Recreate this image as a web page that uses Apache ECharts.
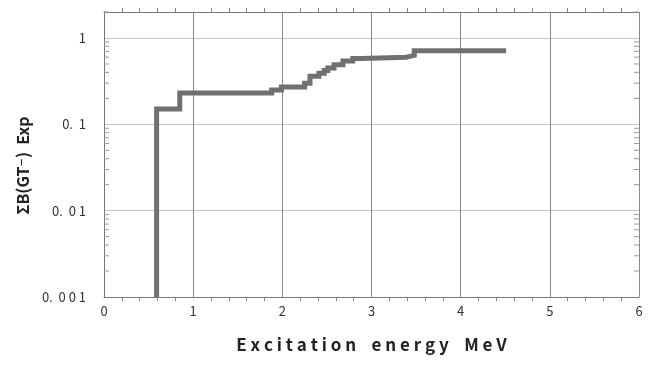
<!DOCTYPE html>
<html>
<head>
<meta charset="utf-8">
<script src="https://cdn.jsdelivr.net/npm/echarts@6/dist/echarts.min.js"></script>
<style>
  html, body { margin: 0; padding: 0; background: #fff; }
  #chart { width: 664px; height: 366px; }
</style>
</head>
<body>
<div id="chart"></div>
<script>
// step starts (MeV) and cumulative B(GT-) from that energy on
const energies = [0.59, 0.59, 0.85, 1.88, 1.99, 2.25, 2.31, 2.41, 2.47, 2.51, 2.58, 2.68, 2.79, 2.89, 3.39, 3.48, 4.51];
const sumBgt =   [0.001, 0.15, 0.23, 0.25, 0.27, 0.30, 0.36, 0.39, 0.42, 0.45, 0.49, 0.54, 0.58, 0.60, 0.63, 0.71, 0.71];

const yTickLabels = { 0.001: '0.  0 0 1', 0.01: '0.  0 1', 0.1: '0.  1', 1: '1' };

// log minor ticks 2..9 per decade
const yMinor = [];
for (let d = 0.001; d < 1.5; d *= 10) {
  for (let k = 2; k <= 9; k++) {
    const v = +(k * d).toPrecision(3);
    if (v <= 2) yMinor.push(v);
  }
}

const FONT = "'Noto Sans CJK JP', 'DejaVu Sans', sans-serif";
const frame = { lineStyle: { color: '#777', width: 1 } };

const chart = echarts.init(document.getElementById('chart'));

chart.setOption({
  animation: false,
  grid: { left: 104, right: 25, top: 12, bottom: 69 },
  xAxis: [
    {
      type: 'value', min: 0, max: 6, interval: 1,
      name: 'E x c i t a t i o n    e n e r g y    M e V',
      nameLocation: 'middle', nameGap: 39,
      nameTextStyle: { fontFamily: FONT, fontSize: 17, fontWeight: 'bold', color: '#222' },
      axisLine: frame,
      axisTick: { show: false },
      minorTick: { show: true, splitNumber: 5, length: 4, inside: true, lineStyle: { color: '#888' } },
      axisLabel: { fontFamily: FONT, fontSize: 13, color: '#333', margin: 8 },
      splitLine: { show: true, lineStyle: { color: '#8a8a8a', width: 1 } }
    },
    {
      type: 'value', min: 0, max: 6, interval: 1, position: 'top',
      axisLine: frame, axisTick: { show: false }, axisLabel: { show: false },
      minorTick: { show: true, splitNumber: 5, length: 4, inside: true, lineStyle: { color: '#888' } },
      splitLine: { show: false }
    }
  ],
  yAxis: [
    {
      type: 'log', logBase: 10, min: 0.001, max: 2,
      name: 'ΣB(GT⁻)  Exp\u00a0\u00a0\u00a0\u00a0\u00a0\u00a0',
      nameLocation: 'middle', nameGap: 62,
      nameTextStyle: { fontFamily: FONT, fontSize: 16, fontWeight: 'bold', color: '#222' },
      axisLine: frame,
      axisTick: { show: false },
      axisLabel: {
        fontFamily: FONT, fontSize: 13, color: '#333', margin: 18,
        formatter: v => yTickLabels[+v.toPrecision(3)] || ''
      },
      splitLine: { show: true, lineStyle: { color: '#c4c4c4', width: 1 } }
    },
    {
      type: 'log', logBase: 10, min: 0.001, max: 2, position: 'right',
      axisLine: frame, axisTick: { show: false }, axisLabel: { show: false },
      splitLine: { show: false }
    }
  ],
  series: [
    {
      type: 'custom',
      silent: true,
      data: yMinor.map(v => [0, v]),
      renderItem: (params, api) => {
        const p = api.coord([0, api.value(1)]);
        const cs = params.coordSys;
        const style = { stroke: '#999', lineWidth: 1 };
        return {
          type: 'group',
          children: [
            { type: 'line', shape: { x1: cs.x, y1: p[1], x2: cs.x + 5, y2: p[1] }, style },
            { type: 'line', shape: { x1: cs.x + cs.width - 5, y1: p[1], x2: cs.x + cs.width, y2: p[1] }, style }
          ]
        };
      }
    },
    {
      type: 'line',
      step: 'end',
      showSymbol: false,
      data: energies.map((e, i) => [e, sumBgt[i]]),
      lineStyle: { color: '#707070', width: 5, join: 'miter', cap: 'butt' },
      z: 5
    }
  ]
});
</script>
</body>
</html>
